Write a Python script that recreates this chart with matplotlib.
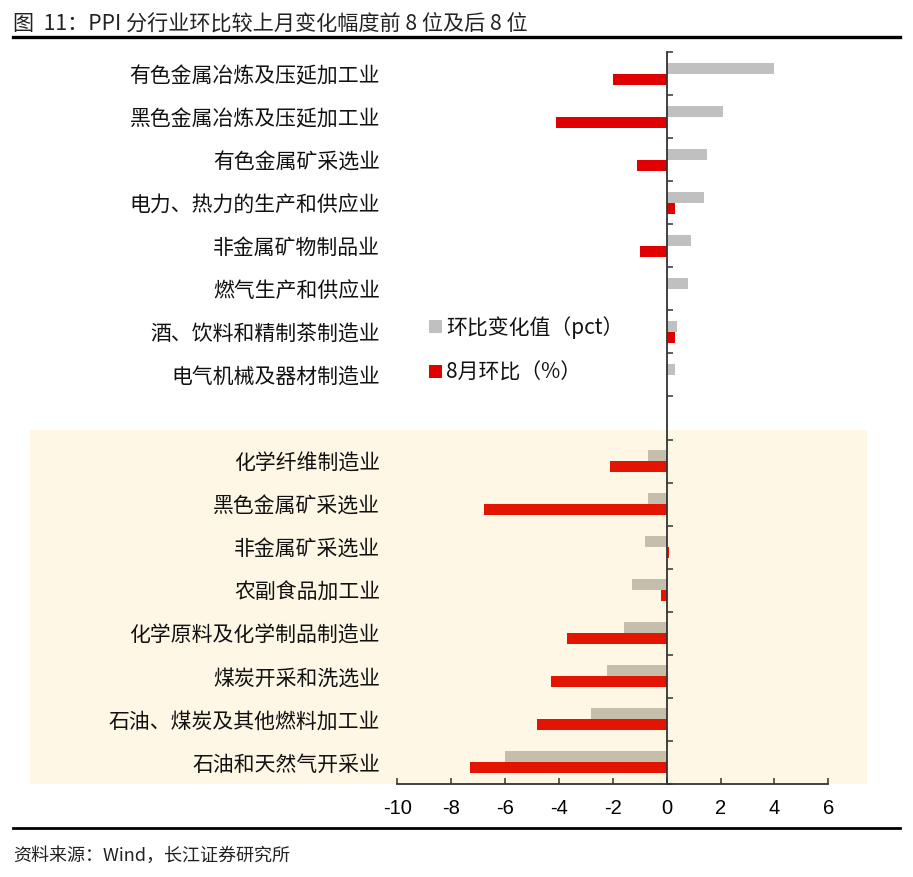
import matplotlib
matplotlib.use("Agg")
import matplotlib.pyplot as plt
from matplotlib.patches import Rectangle
from matplotlib.transforms import blended_transform_factory
import numpy as np

plt.rcParams['font.family'] = ['Noto Sans CJK SC', 'DejaVu Sans']

categories = [
    "有色金属冶炼及压延加工业",
    "黑色金属冶炼及压延加工业",
    "有色金属矿采选业",
    "电力、热力的生产和供应业",
    "非金属矿物制品业",
    "燃气生产和供应业",
    "酒、饮料和精制茶制造业",
    "电气机械及器材制造业",
    "",
    "化学纤维制造业",
    "黑色金属矿采选业",
    "非金属矿采选业",
    "农副食品加工业",
    "化学原料及化学制品制造业",
    "煤炭开采和洗选业",
    "石油、煤炭及其他燃料加工业",
    "石油和天然气开采业",
]
change_pct = [4.0, 2.1, 1.5, 1.4, 0.9, 0.8, 0.4, 0.3, np.nan,
              -0.7, -0.7, -0.8, -1.3, -1.6, -2.2, -2.8, -6.0]
aug_mom = [-2.0, -4.1, -1.1, 0.3, -1.0, 0.0, 0.3, 0.0, np.nan,
           -2.1, -6.8, 0.1, -0.2, -3.7, -4.3, -4.8, -7.3]
legend_labels = ["环比变化值（pct）", "8月环比（%）"]
xticks = [-10, -8, -6, -4, -2, 0, 2, 4, 6]
title = "图  11：PPI 分行业环比较上月变化幅度前 8 位及后 8 位"
source = "资料来源：Wind，长江证券研究所"

W, H = 913, 877
fig = plt.figure(figsize=(W / 100, H / 100), dpi=100)

def fx(px):
    return px / W

def fy(py):
    return 1 - py / H

ax_left, ax_right, ax_top, ax_bot = 397.3, 828.3, 52, 784
ax = fig.add_axes([fx(ax_left), fy(ax_bot), fx(ax_right - ax_left), (ax_bot - ax_top) / H])
ax.set_zorder(2)
ax.patch.set_alpha(0)

# beige background for bottom group
fig.patches.append(Rectangle((fx(30), fy(784)), fx(867 - 30), (784 - 430) / H,
                             transform=fig.transFigure, facecolor="#FFF7E6",
                             edgecolor="none", zorder=0))

n = len(categories)
y = np.arange(n)
bh = 0.255
gray_cols = ["#C0C0C0" if i < 8 else "#C5BEAB" for i in range(n)]
red_cols = ["#E00000" if i < 8 else "#E31400" for i in range(n)]
ax.barh(y - bh / 2, change_pct, height=bh, color=gray_cols, zorder=2)
ax.barh(y + bh / 2, aug_mom, height=bh, color=red_cols, zorder=2)

ax.set_xlim(-10, 6)
ax.set_ylim(n - 0.5, -0.5)

for s in ["top", "right"]:
    ax.spines[s].set_visible(False)
ax.spines["left"].set_position(("data", 0))
ax.spines["left"].set_color("#333333")
ax.spines["left"].set_linewidth(1.3)
ax.spines["bottom"].set_color("#333333")
ax.spines["bottom"].set_linewidth(1.3)

ax.set_yticks(np.arange(-0.5, n, 1.0))
ax.set_yticklabels([])
ax.tick_params(axis="y", direction="in", length=4.5, width=1.1, color="#333333")
ax.set_xticks(xticks)
ax.set_xticklabels([str(t) for t in xticks], family=["Liberation Sans", "DejaVu Sans"],
                   fontsize=14.5)
ax.tick_params(axis="x", direction="in", length=4.5, width=1.1, color="#333333", pad=11)

tr = blended_transform_factory(ax.transAxes, ax.transData)
for i, lab in enumerate(categories):
    if lab:
        ax.text((380 - ax_left) / (ax_right - ax_left), i + 0.06, lab, transform=tr,
                ha="right", va="center", fontsize=15, color="#111111")

# legend
leg_items = [(legend_labels[0], "#C0C0C0", 326.5), (legend_labels[1], "#E00000", 371.5)]
for lab, col, yc in leg_items:
    fig.patches.append(Rectangle((fx(429), fy(yc + 6.5)), fx(13), 13 / H,
                                 transform=fig.transFigure, facecolor=col,
                                 edgecolor="none", zorder=3))
    fig.text(fx(446), fy(yc + 1), lab, ha="left", va="center", fontsize=15, color="#111111")

# title and lines
fig.text(fx(13), fy(25), title, ha="left", va="center", fontsize=15.2, color="#222222")
fig.add_artist(plt.Line2D([fx(13), fx(900)], [fy(37), fy(37)], transform=fig.transFigure,
                          color="black", linewidth=2.4))
fig.add_artist(plt.Line2D([fx(13), fx(900)], [fy(828), fy(828)], transform=fig.transFigure,
                          color="black", linewidth=2.0))
fig.text(fx(13), fy(856), source, ha="left", va="center", fontsize=13, color="#222222")

fig.savefig("out.png", dpi=100)
